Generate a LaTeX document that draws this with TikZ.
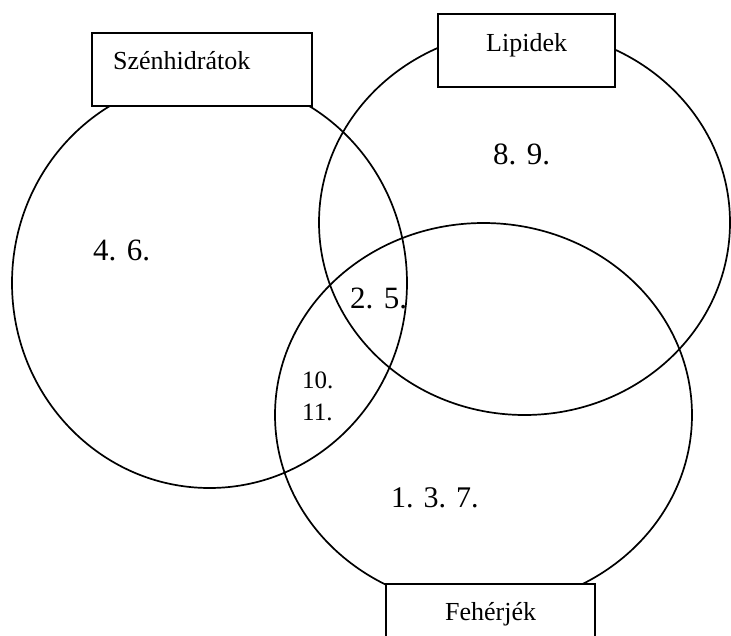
\documentclass[tikz,border=0pt]{standalone}
\usepackage{fontspec}
\setmainfont{Liberation Serif}
\tikzset{
  ring/.style={draw=black, line width=1.7pt},
  labelbox/.style={draw=black, fill=white, line width=1.7pt},
  lab/.style={anchor=base west, inner sep=0pt, font=\fontsize{26}{30}\selectfont},
  num/.style={anchor=base west, inner sep=0pt, font=\fontsize{31}{36}\selectfont},
  smallnum/.style={anchor=base west, inner sep=0pt, font=\fontsize{25}{32}\selectfont}
}
\begin{document}
\begin{tikzpicture}[x=1pt,y=-1pt]
\useasboundingbox (0,0) rectangle (731,635);
\clip (0,0) rectangle (731,635);
\fill[white] (0,0) rectangle (731,635);
% circles
\draw[ring] (209.5,283) ellipse [x radius=197.5pt, y radius=205pt];
\draw[ring] (524.5,222.5) ellipse [x radius=205.5pt, y radius=192.5pt];
\draw[ring] (483.5,415) ellipse [x radius=208.5pt, y radius=192pt];
% boxes
\draw[labelbox] (92,33) rectangle (312,106);
\draw[labelbox] (438,14) rectangle (615,87);
\draw[labelbox] (386,584) rectangle (595,660);
% labels
\node[lab] (szen) at (113,69) {Szénhidrátok};
\node[lab] (lip) at (486,51) {Lipidek};
\node[lab] (feh) at (445,620) {Fehérjék};
% numbers
\node[num] (n46) at (93,260) {4. 6.};
\node[num] (n89) at (493,164) {8. 9.};
\node[num] (n25) at (350,308) {2. 5.};
\node[smallnum] (n10) at (302,388) {10.};
\node[smallnum] (n11) at (302,420) {11.};
\node[font=\fontsize{30}{36}\selectfont, anchor=base west, inner sep=0pt] (n137) at (391,507) {1. 3. 7.};
\end{tikzpicture}
\end{document}
